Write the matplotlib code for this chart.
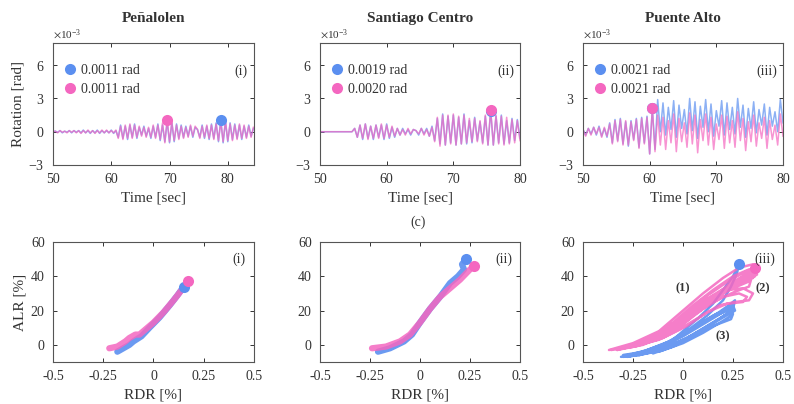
import numpy as np
import matplotlib
matplotlib.use("Agg")
import matplotlib.pyplot as plt
from matplotlib.lines import Line2D

plt.rcParams['font.family'] = ['Liberation Serif', 'DejaVu Serif']
plt.rcParams['mathtext.fontset'] = 'stix'

BLUE = '#5b8ff0'
PINK = '#f467c0'
TXT = '#333333'

# ---------------- data ----------------
sites = ['Peñalolen', 'Santiago Centro', 'Puente Alto']
panel_tags = ['(i)', '(ii)', '(iii)']

# rotation turning points [1e-3 rad], sampled every 0.4 s from t = 50 s
rot_step = 0.4
rot_blue_1 = [0, 0.05, -0.05, 0.1, -0.1, 0.05, -0.05, 0.1, -0.1, 0.1,
              -0.05, 0.1, -0.1, 0.15, -0.1, 0.1, -0.15, 0.1, -0.1, 0.15,
              -0.15, 0.1, -0.1, 0.1, -0.1, 0.15, -0.15, 0.1,
              -0.5, 0.6, -0.6, 0.5, -0.7, 0.6, -0.5, 0.7, -0.6, 0.4,
              -0.3, 0.5, -0.4, 0.3, -0.6, 0.5, -0.5, 0.7, -0.8, 0.6, -0.9,
              0.9, -1.0, 0.8, -0.9, 0.7, -0.6, 0.6, -0.5, 0.5, -0.4,
              0.5, -0.5, 0.4, 0.2, -0.5, 0.6, -0.6, 0.5, -0.7, 0.7,
              -0.6, 0.8, -0.9,
              1.1, -1.0, 0.9, -0.9, 0.8, -0.7, 0.7, -0.6, 0.6, -0.7,
              0.5, -0.5, 0.6, -0.4, 0.3]
rot_pink_1 = [0, 0.05, -0.1, 0.1, -0.05, 0.05, -0.1, 0.1, -0.05, 0.1,
              -0.1, 0.1, -0.15, 0.1, -0.1, 0.15, -0.1, 0.1, -0.15, 0.1,
              -0.1, 0.15, -0.1, 0.15, -0.1, 0.1, -0.1, 0.15,
              -0.6, 0.5, -0.7, 0.6, -0.6, 0.7, -0.6, 0.6, -0.5, 0.5,
              -0.4, 0.4, -0.5, 0.4, -0.5, 0.6, -0.6, 0.6, -0.7, 0.8, -1.0,
              1.1, -0.9, 0.9, -0.8, 0.6, -0.7, 0.5, -0.6, 0.4, -0.5,
              0.6, -0.4, 0.5, 0.2, -0.6, 0.5, -0.5, 0.6, -0.6, 0.6,
              -0.7, 0.7, -0.8,
              0.9, -0.9, 1.0, -0.8, 0.7, -0.8, 0.6, -0.7, 0.7, -0.6,
              0.6, -0.6, 0.5, -0.5, 0.4]

rot_blue_2 = [0] * 13 + [
    0.3, -0.5, 0.6, -0.7, 0.7, -0.6, 0.5, -0.7, 0.6, -0.5,
    0.6, -0.7, 0.7, -0.6, 0.4, -0.5, 0.3, -0.3, 0.3, -0.2,
    0.2, -0.3, 0.2, 0.1, -0.3,
    0.3, -0.2, 0.3, -0.4, 0.5,
    -0.8, 1.2, -1.1, 1.6, -1.2, 1.4, -1.0, 1.5, -1.2, 1.3,
    -1.1, 1.6, -1.1, 1.0, -1.0, 1.3, -0.8, 0.9, -1.0, 1.4,
    -1.2, 1.9, -1.2, 1.4, -1.0, 1.5, -1.1, 1.0, -1.0, 1.2,
    -0.8, 1.1, -0.6]
rot_pink_2 = [0] * 13 + [
    0.3, -0.5, 0.6, -0.6, 0.7, -0.7, 0.5, -0.6, 0.6, -0.6,
    0.7, -0.6, 0.6, -0.5, 0.5, -0.4, 0.3, -0.3, 0.2, -0.3,
    0.3, -0.2, 0.2, 0.1, -0.2,
    0.3, -0.3, 0.2, -0.4, 0.4,
    -0.9, 1.3, -1.3, 1.5, -1.2, 1.5, -1.1, 1.6, -1.2, 1.4,
    -1.1, 1.5, -1.0, 1.2, -0.9, 1.2, -0.9, 1.0, -1.1, 1.5,
    -1.2, 2.0, -1.2, 1.5, -1.1, 1.4, -1.2, 1.3, -1.1, 1.1,
    -1.0, 1.0, -0.8]

rot_blue_3 = [0.2, -0.3, 0.3, -0.2, 0.4, -0.3, 0.5, -0.4, 0.3, -0.5,
              0.8, -1.0, 1.1, -0.8, 1.2, -1.1, 0.9, -1.3, 1.0, -0.7,
              1.2, -1.4, 1.3, -1.0, 1.4,
              -2.0, 2.1, -1.6,
              2.9, 0.0, 2.6, -0.3, 2.2, 0.2, 2.8, -0.5,
              2.4, 0.3, 2.0, -0.2, 3.0, 0.1, 2.7, -0.6,
              2.3, 0.4, 2.9, 0.0, 2.5, -0.4, 1.9, 0.5,
              2.8, -0.3, 2.6, 0.2, 2.2, -0.2, 3.0, 0.4,
              2.4, -0.5, 2.1, 0.3, 2.7, -0.1, 2.0, 0.6,
              2.5, -0.3, 2.2, 0.5, 1.8, 0.0, 2.9, 0.8]
rot_pink_3 = [0.2, -0.4, 0.3, -0.3, 0.4, -0.2, 0.4, -0.5, 0.4, -0.4,
              0.7, -1.1, 1.0, -0.9, 1.1, -1.2, 1.0, -1.2, 0.9, -0.8,
              1.1, -1.5, 1.2, -1.1, 1.3,
              -2.0, 2.1, -1.8,
              1.5, -1.2, 1.3, -1.6, 1.0, -1.0, 1.6, -1.8,
              1.2, -0.9, 0.8, -1.4, 1.7, -1.1, 1.5, -1.9,
              1.1, -0.8, 1.6, -1.2, 1.3, -1.6, 0.7, -0.7,
              1.5, -1.5, 1.4, -1.0, 1.0, -1.4, 1.8, -0.8,
              1.2, -1.7, 0.9, -0.9, 1.5, -1.3, 0.8, -0.6,
              1.3, -1.5, 1.0, -0.7, 0.6, -1.2, 1.6, -0.4]

rot_blue = [rot_blue_1, rot_blue_2, rot_blue_3]
rot_pink = [rot_pink_1, rot_pink_2, rot_pink_3]
time_xmax = [84.5, 80, 80]

# peak rotations [rad] and their times [s]
peak_rot_blue = [0.0011, 0.0019, 0.0021]
peak_rot_pink = [0.0011, 0.0020, 0.0021]
peak_t_blue = [78.8, 75.6, 60.4]
peak_t_pink = [69.6, 75.6, 60.4]

# ALR vs RDR paths [%]
rdr_blue_1 = [-0.18, -0.15, -0.12, -0.10, -0.06, -0.02, 0.03, 0.08, 0.12, 0.15]
alr_blue_1 = [-4, -2, 0, 2, 5, 10, 16, 23, 29, 34]
rdr_pink_1 = [-0.22, -0.18, -0.14, -0.12, -0.09, -0.07, -0.04, 0.0, 0.05, 0.10, 0.14, 0.17]
alr_pink_1 = [-2, -1, 2, 4, 6, 6, 9, 13, 19, 26, 32, 37]

rdr_blue_2 = [-0.21, -0.15, -0.08, -0.04, 0.0, 0.05, 0.10, 0.15, 0.19, 0.22, 0.21, 0.23]
alr_blue_2 = [-4, -2, 2, 6, 13, 21, 28, 36, 40, 44, 47, 50]
rdr_pink_2 = [-0.24, -0.17, -0.10, -0.05, 0.0, 0.05, 0.10, 0.15, 0.20, 0.25, 0.27]
alr_pink_2 = [-2, -1, 2, 6, 13, 21, 28, 33, 38, 44, 46]

rdr_blue_3 = [-0.31, -0.2, -0.1, 0.0, 0.1, 0.2, 0.25,
              0.26, 0.2, 0.1, 0.0, -0.1, -0.22,
              -0.12, -0.02, 0.08, 0.18, 0.24, 0.26,
              0.25, 0.18, 0.08, -0.02, -0.14, -0.28,
              -0.18, -0.05, 0.05, 0.15, 0.22, 0.25, 0.24,
              0.15, 0.05, -0.05, -0.15,
              -0.08, 0.0, 0.08, 0.15, 0.2, 0.25, 0.28,
              0.27, 0.24, 0.2, 0.12, 0.03, -0.07, -0.2, -0.3,
              -0.25, -0.12, 0.0, 0.1, 0.2, 0.25,
              0.22, 0.12, 0.02, -0.1, -0.22, -0.3,
              -0.18, -0.06, 0.04, 0.14, 0.22, 0.24, 0.2, 0.1, 0.0, -0.12]
alr_blue_3 = [-7, -5, -1, 5, 12, 19, 23,
              20, 16, 9, 3, -3, -6,
              -2, 5, 12, 19, 24, 26,
              21, 15, 8, 1, -4, -7,
              -4, 3, 10, 17, 21, 18, 15,
              11, 5, -1, -5,
              0, 8, 16, 24, 32, 40, 47,
              42, 34, 26, 17, 9, 2, -4, -6,
              -6, -1, 6, 13, 20, 22,
              18, 11, 4, -2, -6, -7,
              -3, 2, 9, 16, 20, 17, 14, 7, 1, -4]
rdr_pink_3 = [-0.37, -0.25, -0.12, 0.0, 0.1, 0.2, 0.28, 0.35,
              0.37, 0.33, 0.25, 0.15, 0.05, -0.05, -0.15, -0.28,
              -0.15, -0.05, 0.05, 0.15, 0.25, 0.33,
              0.36, 0.3, 0.2, 0.1, 0.0, -0.1, -0.22,
              -0.1, 0.0, 0.1, 0.2, 0.3, 0.36,
              0.37, 0.3, 0.22, 0.12, 0.02, -0.08, -0.2, -0.33,
              -0.2, -0.08, 0.02, 0.12, 0.22, 0.3, 0.35,
              0.33, 0.26, 0.18, 0.08, -0.02, -0.12, -0.25,
              -0.12, 0.0, 0.1, 0.2, 0.28, 0.34,
              0.33, 0.26, 0.15, 0.05, -0.05, -0.18,
              -0.05, 0.05, 0.15, 0.25, 0.32, 0.36,
              0.35, 0.27, 0.18, 0.08, -0.02, -0.12, -0.25,
              -0.3, -0.18, -0.06, 0.04, 0.14, 0.24, 0.31, 0.34,
              0.33, 0.25, 0.16, 0.06, -0.04, -0.16, -0.3,
              -0.22, -0.1, 0.0, 0.1, 0.2, 0.28, 0.32,
              0.3, 0.22, 0.12, 0.02, -0.1, -0.24, -0.36]
alr_pink_3 = [-3, 1, 8, 20, 30, 39, 45, 47,
              44, 41, 37, 28, 19, 11, 4, -1,
              5, 13, 23, 32, 40, 44,
              40, 37, 31, 22, 13, 5, 0,
              6, 17, 27, 35, 42, 45,
              41, 38, 34, 24, 14, 6, 0, -3,
              1, 8, 18, 27, 32, 33, 30,
              26, 25, 23, 16, 9, 3, -1,
              5, 14, 24, 32, 37, 38,
              34, 31, 25, 17, 10, 2,
              10, 20, 29, 36, 42, 43,
              39, 36, 29, 20, 12, 5, 0,
              -2, 2, 9, 18, 27, 35, 40, 41,
              37, 33, 27, 18, 10, 3, -2,
              0, 5, 12, 21, 28, 30, 28,
              25, 24, 19, 11, 4, -1, -3]

rdr_blue = [rdr_blue_1, rdr_blue_2, rdr_blue_3]
alr_blue = [alr_blue_1, alr_blue_2, alr_blue_3]
rdr_pink = [rdr_pink_1, rdr_pink_2, rdr_pink_3]
alr_pink = [alr_pink_1, alr_pink_2, alr_pink_3]
loop_lw = [4.5, 4.5, 1.8]

# end points of the ALR-RDR paths
end_rdr_blue = [0.15, 0.23, 0.28]
end_alr_blue = [34, 50, 47]
end_rdr_pink = [0.17, 0.27, 0.36]
end_alr_pink = [37, 46, 45]

# ---------------- figure ----------------
fig = plt.figure(figsize=(7.94, 4.04), dpi=100)
W, H = 794, 404
lefts = [53, 320, 583]
widths = [201, 200, 200]


def px_axes(left, top, w, h):
    return fig.add_axes([left / W, 1 - (top + h) / H, w / W, h / H])


def style(ax):
    ax.tick_params(direction='in', top=True, right=True, length=3,
                   labelsize=10, colors=TXT, pad=6, width=0.7)
    for s in ax.spines.values():
        s.set_color('#555555')
        s.set_linewidth(0.8)


for k in range(3):
    # time histories of rotation
    ax = px_axes(lefts[k], 43, widths[k], 122)
    style(ax)
    vb = np.array(rot_blue[k]) * 1e-3
    vp = np.array(rot_pink[k]) * 1e-3
    tb = 50 + rot_step * np.arange(len(vb))
    tp = 50 + rot_step * np.arange(len(vp))
    ax.plot(tb, vb, color=BLUE, lw=1.1, alpha=0.7)
    ax.plot(tp, vp, color=PINK, lw=1.1, alpha=0.7)
    ax.plot(peak_t_blue[k], peak_rot_blue[k], 'o', color=BLUE, ms=8, mec='none')
    ax.plot(peak_t_pink[k], peak_rot_pink[k], 'o', color=PINK, ms=8, mec='none')
    ax.set_xlim(50, time_xmax[k])
    ax.set_ylim(-3e-3, 8e-3)
    ax.set_xticks([50, 60, 70, 80])
    ax.set_yticks([-3e-3, 0, 3e-3, 6e-3])
    ax.ticklabel_format(axis='y', style='sci', scilimits=(-3, -3), useMathText=True)
    ax.yaxis.get_offset_text().set_fontsize(8)
    ax.yaxis.get_offset_text().set_color(TXT)
    ax.set_xlabel('Time [sec]', fontsize=11, color=TXT, labelpad=4)
    if k == 0:
        ax.set_ylabel('Rotation [rad]', fontsize=11, color=TXT, labelpad=3)
    ax.set_title(sites[k], fontsize=11, fontweight='bold', color=TXT, pad=15)
    handles = [Line2D([], [], ls='none', marker='o', ms=8, mec='none', color=BLUE),
               Line2D([], [], ls='none', marker='o', ms=8, mec='none', color=PINK)]
    labels = [f'{peak_rot_blue[k]:.4f} rad', f'{peak_rot_pink[k]:.4f} rad']
    ax.legend(handles, labels, loc='upper left', bbox_to_anchor=(0.0, 0.9),
              frameon=False, fontsize=10, handletextpad=0.2, labelspacing=0.45,
              borderaxespad=0.2, handlelength=1.2, labelcolor=TXT)
    ax.text(0.97, 0.77, panel_tags[k], transform=ax.transAxes, ha='right',
            va='center', fontsize=10, color=TXT)

    # ALR versus RDR
    ax2 = px_axes(lefts[k], 242, widths[k], 120)
    style(ax2)
    ax2.plot(rdr_blue[k], alr_blue[k], color=BLUE, lw=loop_lw[k], alpha=0.9,
             solid_capstyle='round', solid_joinstyle='round')
    ax2.plot(rdr_pink[k], alr_pink[k], color=PINK, lw=loop_lw[k], alpha=0.85,
             solid_capstyle='round', solid_joinstyle='round')
    ax2.plot(end_rdr_blue[k], end_alr_blue[k], 'o', color=BLUE, ms=8, mec='none')
    ax2.plot(end_rdr_pink[k], end_alr_pink[k], 'o', color=PINK, ms=8, mec='none')
    ax2.set_xlim(-0.5, 0.5)
    ax2.set_ylim(-10, 60)
    ax2.set_xticks([-0.5, -0.25, 0, 0.25, 0.5])
    ax2.set_xticklabels(['-0.5', '-0.25', '0', '0.25', '0.5'])
    ax2.set_yticks([0, 20, 40, 60])
    ax2.set_xlabel('RDR [%]', fontsize=11, color=TXT, labelpad=4)
    if k == 0:
        ax2.set_ylabel('ALR [%]', fontsize=11, color=TXT, labelpad=3)
    ax2.text(0.96, 0.86, panel_tags[k], transform=ax2.transAxes, ha='right',
             va='center', fontsize=10, color=TXT)
    if k == 2:
        for lbl, x, y in [('(1)', 0.0, 33), ('(2)', 0.40, 33), ('(3)', 0.20, 5)]:
            ax2.text(x, y, lbl, ha='center', va='center', fontsize=9,
                     fontweight='bold', color=TXT)

fig.text(418 / W, 1 - 222 / H, '(c)', ha='center', va='center', fontsize=10, color=TXT)

fig.savefig('out.png', dpi=100, facecolor='white')
